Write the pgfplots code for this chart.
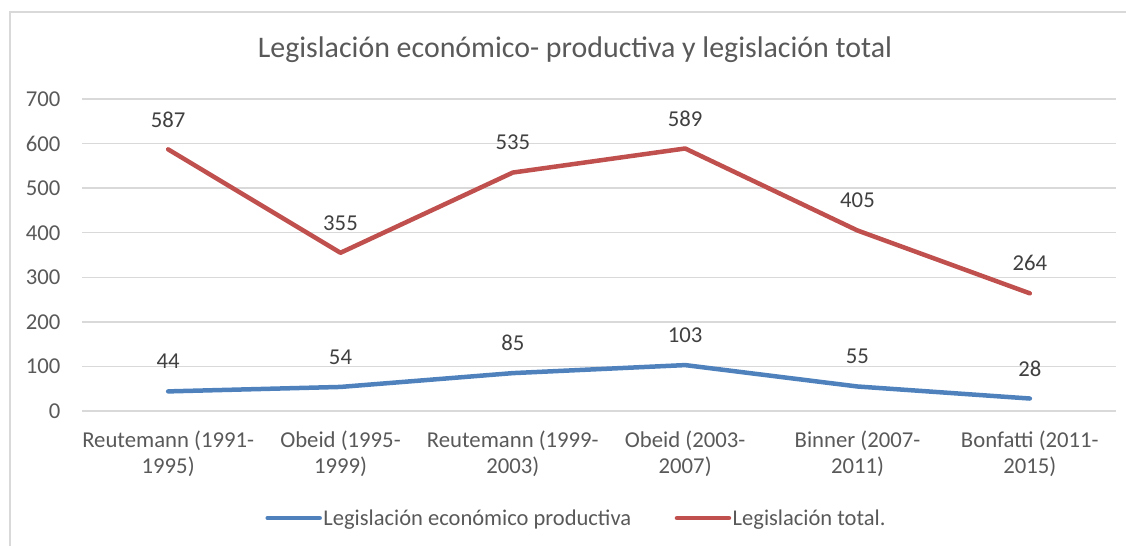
\documentclass[border=0pt]{standalone}
\usepackage{pgfplots}
\pgfplotsset{compat=1.18}
\usepackage{fontspec}
\setmainfont{Carlito}
\definecolor{txt}{HTML}{595959}
\definecolor{lbl}{HTML}{404040}
\definecolor{gridc}{HTML}{D9D9D9}
\definecolor{ser1}{HTML}{4F81BD}
\definecolor{ser2}{HTML}{C0504D}
\begin{document}
\begin{tikzpicture}[x=1bp,y=1bp]
\path[use as bounding box] (0,0) rectangle (1126,-546);
\draw[gridc, line width=1.5bp] (10,-546) -- (10,-12) -- (1130,-12);
\node[txt, font=\fontsize{30}{34}\selectfont] at (575,-50) {Legislación económico- productiva y legislación total};
\begin{axis}[
  at={(82bp,-411bp)}, anchor=south west, scale only axis,
  width=1034bp, height=312bp,
  xmin=-0.5, xmax=5.5, ymin=0, ymax=700,
  ytick={0,100,...,700},
  xtick={0,...,5},
  xticklabels={{Reutemann (1991-\\1995)},{Obeid (1995-\\1999)},{Reutemann (1999-\\2003)},{Obeid (2003-\\2007)},{Binner (2007-\\2011)},{Bonfatti (2011-\\2015)}},
  /pgf/number format/assume math mode=true,
  tick label style={font=\fontsize{22.8}{26}\selectfont, text=txt},
  xticklabel style={align=center, yshift=-16bp},
  yticklabel style={xshift=-18bp},
  axis line style={draw=none},
  tick style={draw=none},
  ymajorgrids,
  major grid style={gridc, line width=1.5bp},
  clip=false,
  legend style={at={(0.478,-0.343)}, anchor=center, draw=none, fill=none,
    legend columns=2, font=\fontsize{22.6}{26}\selectfont, text=txt,
    /tikz/every even column/.append style={column sep=42bp},
    nodes={inner sep=1.5bp}},
  legend image code/.code={\draw[#1] (0bp,0bp) -- (52bp,0bp);},
  nodes near coords,
  every node near coord/.append style={anchor=center, yshift=30bp, text=lbl, font=\fontsize{22.8}{26}\selectfont},
]
\addplot[ser1, line width=4.5bp, line join=round, line cap=round] coordinates {(0,44)(1,54)(2,85)(3,103)(4,55)(5,28)};
\addlegendentry{Legislación económico productiva}
\addplot[ser2, line width=4.5bp, line join=round, line cap=round] coordinates {(0,587)(1,355)(2,535)(3,589)(4,405)(5,264)};
\addlegendentry{Legislación total.}
\end{axis}
\end{tikzpicture}
\end{document}
